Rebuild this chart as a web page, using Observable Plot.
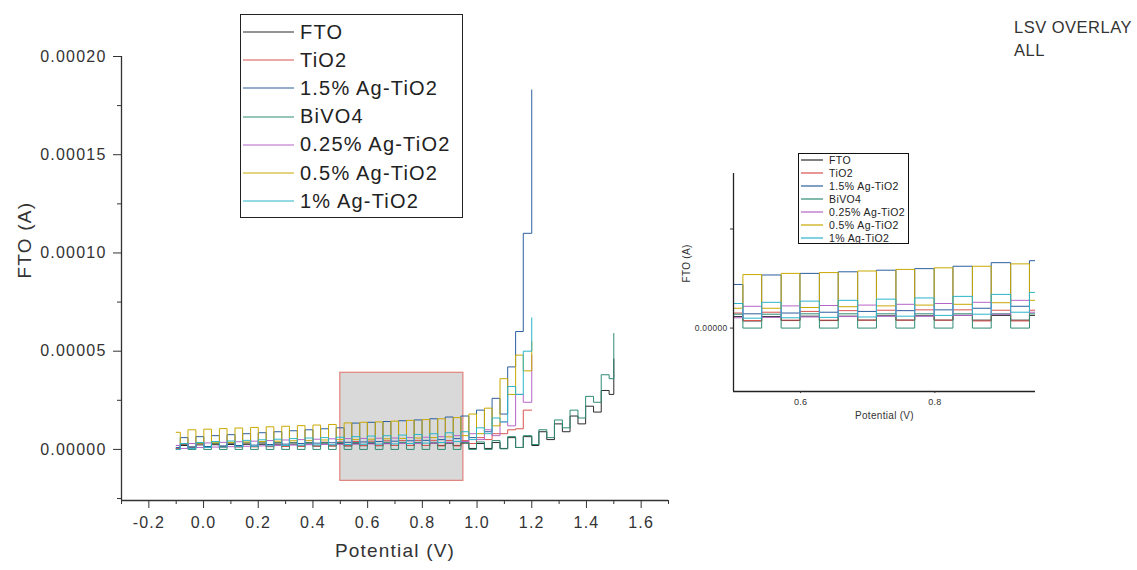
<!DOCTYPE html>
<html>
<head>
<meta charset="utf-8">
<script src="https://cdn.jsdelivr.net/npm/d3@7"></script>
<script src="https://cdn.jsdelivr.net/npm/@observablehq/plot@0.6"></script>
<style>
  html, body { margin: 0; padding: 0; background: #fff; }
  #wrap { position: relative; width: 1137px; height: 570px; overflow: hidden; font-family: "Liberation Sans", Arial, sans-serif; color: #333; }
  #wrap svg { position: absolute; }
  .legend { position: absolute; background: #fff; box-sizing: border-box; }
  .row { position: absolute; display: flex; align-items: center; white-space: nowrap; }
  .note { position: absolute; font-family: "Liberation Sans", Arial, sans-serif; color: #333; font-size: 16.5px; letter-spacing: 0.5px; line-height: 23px; }
</style>
</head>
<body>
<div id="wrap"></div>
<script>
// ---------- data (currents read in µA) ----------
const seriesNames = ["FTO", "TiO2", "1.5% Ag-TiO2", "BiVO4", "0.25% Ag-TiO2", "0.5% Ag-TiO2", "1% Ag-TiO2"];
const seriesColors = ["#2b2b2b", "#d9534f", "#2c5f9e", "#2e8b74", "#b565c8", "#c9a800", "#2bb5c9"];

// chopped-light switching potentials (V)
const potential = [-0.1, -0.085, -0.057, -0.028, 0.001, 0.029, 0.058, 0.086, 0.115, 0.143,
  0.172, 0.2, 0.229, 0.257, 0.286, 0.314, 0.343, 0.371, 0.4, 0.428,
  0.457, 0.485, 0.514, 0.542, 0.571, 0.599, 0.628, 0.656, 0.685, 0.713,
  0.742, 0.77, 0.799, 0.827, 0.856, 0.884, 0.913, 0.941, 0.97, 0.998,
  1.027, 1.055, 1.084, 1.112, 1.141, 1.169, 1.2, 1.226, 1.255, 1.283,
  1.312, 1.34, 1.369, 1.397, 1.426, 1.454, 1.483, 1.5];

const ftoCurrent = [0.5, 2.0, 1.2, 2.3, 1.3, 2.4, 1.4, 2.5, 1.5, 2.6,
  1.5, 2.6, 1.6, 2.7, 1.6, 2.7, 1.7, 2.8, 1.7, 2.8,
  1.8, 2.9, 1.8, 2.9, 1.9, 3.0, 1.9, 3.0, 2.0, 3.1,
  2.0, 3.1, 2.0, 3.2, 2.0, 3.2, 2.0, 3.2, 0.5, 3.0,
  0.5, 3.5, 0.5, 6.0, 1.0, 6.5, 2.0, 9.0, 5.0, 13.0,
  9.0, 17.0, 13.0, 22.0, 19.0, 30.0, 28.0, 46.0];

const tio2Current = [0.5, 2.5, 0.8, 2.8, 1.0, 3.0, 1.1, 3.1, 1.2, 3.2,
  1.3, 3.3, 1.4, 3.4, 1.5, 3.5, 1.6, 3.6, 1.7, 3.7,
  1.8, 3.8, 1.9, 4.0, 2.0, 4.2, 2.0, 4.4, 2.0, 4.5,
  2.0, 4.6, 2.0, 4.6, 1.8, 4.5, 1.8, 4.5, 3.0, 6.0,
  5.0, 8.0, 8.0, 10.0, 10.5, 20.0, 20.0];

const ag15Current = [1.0, 6.0, 1.2, 6.5, 1.5, 7.0, 1.8, 7.5, 2.0, 8.0,
  2.2, 8.5, 2.5, 9.0, 2.7, 9.5, 3.0, 10.0, 3.2, 10.5,
  3.4, 11.0, 3.6, 13.4, 3.8, 13.8, 4.0, 14.2, 4.2, 14.6,
  4.4, 15.0, 4.6, 15.6, 5.0, 16.5, 5.5, 17.0, 6.0, 20.0,
  9.0, 26.0, 18.0, 42.0, 60.0, 110.0, 183.0];

const bivo4Current = [0, 2.8, 0, 3.0, 0, 3.1, 0, 3.2, 0, 3.3,
  0, 3.3, 0, 3.4, 0, 3.4, 0, 3.5, 0, 3.5,
  0, 3.5, 0, 3.5, 0, 3.6, 0, 3.6, 0, 3.6,
  0, 3.6, 0, 3.6, 0, 3.6, 0, 3.6, 0, 3.8,
  0, 4.5, 0.3, 6.5, 1.0, 7.0, 2.5, 10.0, 6.0, 15.0,
  11.0, 20.0, 16.0, 27.0, 24.0, 38.0, 36.0, 59.0];

const ag025Current = [2.0, 0.5, 3.0, 1.0, 3.3, 1.2, 3.6, 1.4, 3.9, 1.6,
  4.2, 1.8, 4.5, 2.0, 4.8, 2.2, 5.0, 2.4, 5.2, 2.5,
  5.4, 2.6, 5.5, 2.7, 5.6, 2.8, 5.7, 2.9, 5.8, 3.0,
  6.0, 3.0, 6.2, 3.2, 6.5, 3.5, 7.0, 4.0, 8.0, 5.0,
  10.0, 7.0, 14.0, 12.0, 28.0, 24.0, 48.0];

const ag05Current = [8.7, 3.0, 10.0, 3.2, 10.3, 3.4, 10.6, 3.6, 10.9, 3.8,
  11.2, 4.0, 11.5, 4.2, 11.8, 4.4, 12.1, 4.6, 12.4, 4.8,
  12.7, 5.0, 13.5, 5.0, 13.8, 5.2, 14.0, 5.4, 14.4, 5.6,
  14.8, 5.8, 15.2, 6.0, 15.6, 6.4, 16.2, 7.0, 18.0, 8.0,
  21.0, 12.0, 36.0, 28.0, 48.0, 40.0, 55.0];

const ag1Current = [0.0, 3.0, 0.5, 3.5, 1.0, 4.0, 1.2, 4.3, 1.4, 4.6,
  1.6, 4.9, 1.8, 5.2, 2.0, 5.5, 2.2, 5.8, 2.3, 6.0,
  2.4, 6.2, 2.5, 6.5, 2.6, 6.8, 2.7, 7.0, 2.8, 7.3,
  3.0, 7.6, 3.2, 8.0, 3.5, 8.5, 4.0, 9.0, 5.0, 11.0,
  8.0, 16.0, 14.0, 32.0, 28.0, 50.0, 67.0];

// axis settings
const xDomain = [-0.3, 1.7];
const yDomain = [-0.000026, 0.0002];
const xMajor = [-0.2, 0.0, 0.2, 0.4, 0.6, 0.8, 1.0, 1.2, 1.4, 1.6];
const xMinor = [-0.3, -0.1, 0.1, 0.3, 0.5, 0.7, 0.9, 1.1, 1.3, 1.5, 1.7];
const yMajor = [0, 0.00005, 0.0001, 0.00015, 0.0002];
const yMinor = [-0.000025, 0.000025, 0.000075, 0.000125, 0.000175];
// zoomed region (shown as grey box and as the inset)
const zoomX = [0.5, 0.95];
const zoomY = [-0.000016, 0.000039];
const insetXTicks = [0.6, 0.8];
const insetYTicks = [0];
const insetYMinor = [0.000025];

// ---------- build table ----------
const currents = [ftoCurrent, tio2Current, ag15Current, bivo4Current, ag025Current, ag05Current, ag1Current];
const rows = [];
seriesNames.forEach((name, s) => {
  currents[s].forEach((c, i) => rows.push({series: name, potential: potential[i], current: c * 1e-6}));
});

const font = "'Liberation Sans', Arial, sans-serif";
const wrap = document.getElementById("wrap");

// ---------- main plot ----------
const main = Plot.plot({
  width: 700, height: 570,
  marginLeft: 121, marginRight: 32, marginTop: 56, marginBottom: 70,
  style: {fontFamily: font, fontSize: "16px", letterSpacing: "1.2px", color: "#333", background: "transparent", overflow: "visible"},
  x: {domain: xDomain},
  y: {domain: yDomain},
  color: {domain: seriesNames, range: seriesColors},
  marks: [
    Plot.rect([0], {x1: () => zoomX[0], x2: () => zoomX[1], y1: () => zoomY[0], y2: () => zoomY[1], fill: "#d9d9d9", stroke: "#e0827d", strokeWidth: 1.2}),
    Plot.line(rows, {x: "potential", y: "current", z: "series", stroke: "series", curve: "step-after", strokeWidth: 1}),
    Plot.ruleX([xDomain[0]], {stroke: "#333", strokeWidth: 1.3}),
    Plot.ruleY([yDomain[0]], {stroke: "#333", strokeWidth: 1.3}),
    Plot.axisY(yMajor, {tickSize: 8, tickPadding: 7, tickFormat: d => d.toFixed(5), label: null, fontSize: 16, stroke: "#333"}),
    Plot.axisY(yMinor, {tickSize: 4, tickFormat: () => "", label: null, stroke: "#333"}),
    Plot.axisX(xMajor, {tickSize: 8, tickPadding: 8, tickFormat: d => d.toFixed(1), label: null, fontSize: 16, stroke: "#333"}),
    Plot.axisX(xMinor, {tickSize: 4, tickFormat: () => "", label: null, stroke: "#333"}),
    Plot.text(["FTO (A)"], {frameAnchor: "left", dx: -97, rotate: -90, fontSize: 19, fill: "#333"}),
    Plot.text(["Potential (V)"], {frameAnchor: "bottom", dy: 56, fontSize: 19, fill: "#333"})
  ]
});
main.style.left = "0px"; main.style.top = "0px";
wrap.appendChild(main);

// ---------- inset plot ----------
const inset = Plot.plot({
  width: 400, height: 280,
  marginLeft: 73, marginRight: 25, marginTop: 23, marginBottom: 39,
  style: {fontFamily: font, fontSize: "9px", letterSpacing: "0.3px", color: "#333", background: "transparent", overflow: "visible"},
  x: {domain: zoomX},
  y: {domain: zoomY},
  color: {domain: seriesNames, range: seriesColors},
  marks: [
    Plot.line(rows, {x: "potential", y: "current", z: "series", stroke: "series", curve: "step-after", strokeWidth: 1, clip: true}),
    Plot.ruleX([zoomX[0]], {stroke: "#222", strokeWidth: 1.3}),
    Plot.ruleY([zoomY[0]], {stroke: "#222", strokeWidth: 1.3}),
    Plot.axisY(insetYTicks, {tickSize: 3, tickPadding: 3, tickFormat: d => d.toFixed(5), label: null, fontSize: 8.5, stroke: "#333"}),
    Plot.axisY(insetYMinor, {tickSize: 3, tickFormat: () => "", label: null, stroke: "#333"}),
    Plot.axisX(insetXTicks, {tickSize: 2, tickPadding: 5, tickFormat: d => d.toFixed(1), label: null, fontSize: 9, stroke: "#333"}),
    Plot.text(["FTO (A)"], {frameAnchor: "left", dx: -47, rotate: -90, fontSize: 10, fill: "#333"}),
    Plot.text(["Potential (V)"], {frameAnchor: "bottom", dy: 27, fontSize: 10, fill: "#333"})
  ]
});
inset.style.left = "660px"; inset.style.top = "150px";
wrap.appendChild(inset);

// ---------- legends ----------
function legend(opts) {
  const box = document.createElement("div");
  box.className = "legend";
  Object.assign(box.style, {left: opts.left + "px", top: opts.top + "px", width: opts.width + "px", height: opts.height + "px", border: opts.border});
  seriesNames.forEach((name, i) => {
    const row = document.createElement("div");
    row.className = "row";
    row.style.left = opts.padLeft + "px";
    row.style.top = (opts.first + i * opts.step - opts.rowH / 2) + "px";
    row.style.height = opts.rowH + "px";
    row.innerHTML = `<svg width="${opts.lineW}" height="${opts.rowH}" style="position:static"><line x1="0" x2="${opts.lineW}" y1="${opts.rowH / 2}" y2="${opts.rowH / 2}" stroke="${seriesColors[i]}" stroke-width="1.2"/></svg>` +
      `<span style="margin-left:${opts.gap}px;font-size:${opts.fontSize}px;letter-spacing:${opts.ls}px;color:#222">${name}</span>`;
    box.appendChild(row);
  });
  wrap.appendChild(box);
}
legend({left: 240, top: 14, width: 223, height: 204, border: "1.5px solid #222", padLeft: 2, first: 17, step: 28.2, rowH: 24, lineW: 51, gap: 6, fontSize: 20, ls: 1.2});
legend({left: 798, top: 153, width: 111, height: 91, border: "1.2px solid #111", padLeft: 2, first: 6, step: 13, rowH: 12, lineW: 22, gap: 6, fontSize: 10.5, ls: 0.4});

// ---------- note ----------
const note = document.createElement("div");
note.className = "note";
note.style.left = "1014px"; note.style.top = "16px";
note.innerHTML = "LSV OVERLAY<br>ALL";
wrap.appendChild(note);
</script>
</body>
</html>
